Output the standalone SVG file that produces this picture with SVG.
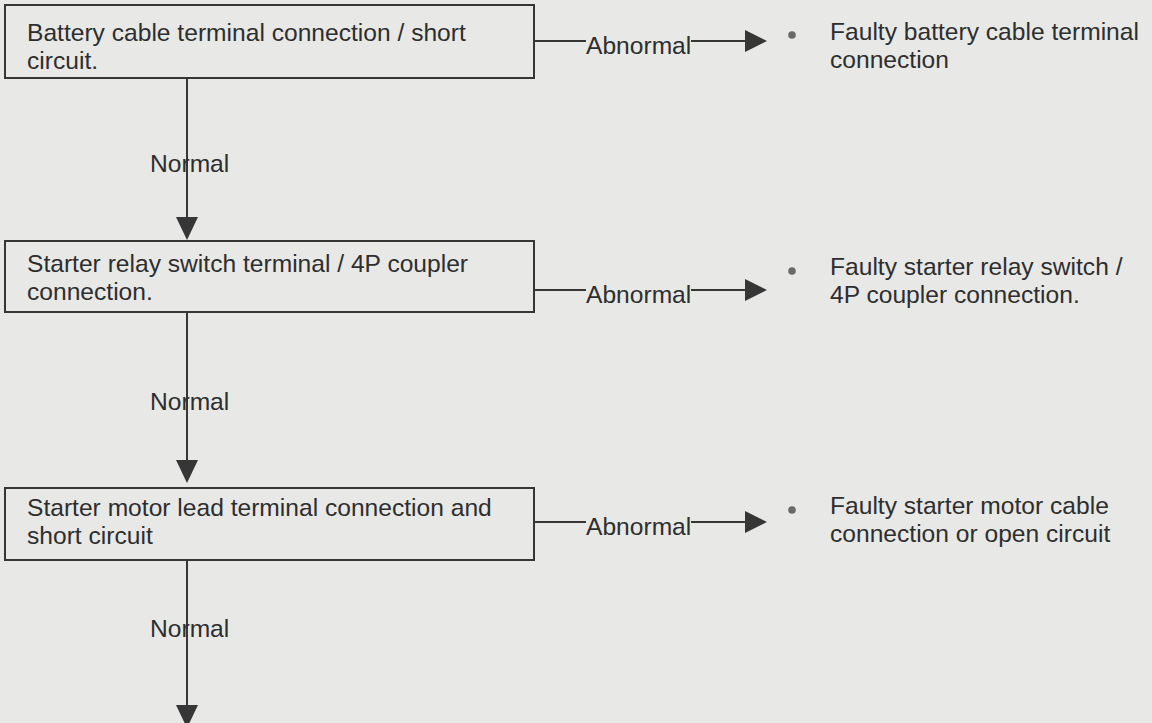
<svg xmlns="http://www.w3.org/2000/svg" width="1152" height="723" viewBox="0 0 1152 723">
<defs>
<style>
.bg{fill:#e8e8e6}
.box{fill:none;stroke:#363636;stroke-width:2}
.t{font-family:"Liberation Sans",Arial,sans-serif;font-size:24.6px;fill:#2e2e2e}
.ln{stroke:#363636;stroke-width:2;fill:none}
.head{fill:#363636}
.dot{fill:#6a6a6a}
</style>
</defs>
<rect class="bg" x="0" y="0" width="1152" height="723"/>
<g id="connectors">
<line class="ln" x1="187" y1="78" x2="187" y2="220"/>
<path class="head" d="M176,217 L198,217 L187,240 Z"/>
<line class="ln" x1="187" y1="312" x2="187" y2="463"/>
<path class="head" d="M176,460 L198,460 L187,483 Z"/>
<line class="ln" x1="187" y1="560" x2="187" y2="708"/>
<path class="head" d="M176,705 L198,705 L187,728 Z"/>
<text class="t" x="150" y="172">Normal</text>
<text class="t" x="150" y="410">Normal</text>
<text class="t" x="150" y="637">Normal</text>
<line class="ln" x1="534" y1="41" x2="586" y2="41"/>
<text class="t" x="586" y="54">Abnormal</text>
<line class="ln" x1="691" y1="41" x2="747" y2="41"/>
<path class="head" d="M745,30 L767,41 L745,52 Z"/>
<line class="ln" x1="534" y1="290" x2="586" y2="290"/>
<text class="t" x="586" y="303">Abnormal</text>
<line class="ln" x1="691" y1="290" x2="747" y2="290"/>
<path class="head" d="M745,279 L767,290 L745,301 Z"/>
<line class="ln" x1="534" y1="522" x2="586" y2="522"/>
<text class="t" x="586" y="535">Abnormal</text>
<line class="ln" x1="691" y1="522" x2="747" y2="522"/>
<path class="head" d="M745,511 L767,522 L745,533 Z"/>
</g>
<g id="n1">
<rect class="box" x="5" y="5" width="529" height="73"/>
<text class="t" x="27" y="41">Battery cable terminal connection / short</text>
<text class="t" x="27" y="69">circuit.</text>
</g>
<g id="n2">
<rect class="box" x="5" y="241" width="529" height="71"/>
<text class="t" x="27" y="272">Starter relay switch terminal / 4P coupler</text>
<text class="t" x="27" y="300">connection.</text>
</g>
<g id="n3">
<rect class="box" x="5" y="488" width="529" height="72"/>
<text class="t" x="27" y="516">Starter motor lead terminal connection and</text>
<text class="t" x="27" y="544">short circuit</text>
</g>
<g id="r1">
<circle class="dot" cx="792" cy="35" r="3.8"/>
<text class="t" x="830" y="40">Faulty battery cable terminal</text>
<text class="t" x="830" y="68">connection</text>
</g>
<g id="r2">
<circle class="dot" cx="792" cy="271" r="3.8"/>
<text class="t" x="830" y="275">Faulty starter relay switch /</text>
<text class="t" x="830" y="303">4P coupler connection.</text>
</g>
<g id="r3">
<circle class="dot" cx="792" cy="510" r="3.8"/>
<text class="t" x="830" y="514">Faulty starter motor cable</text>
<text class="t" x="830" y="542">connection or open circuit</text>
</g>
</svg>
